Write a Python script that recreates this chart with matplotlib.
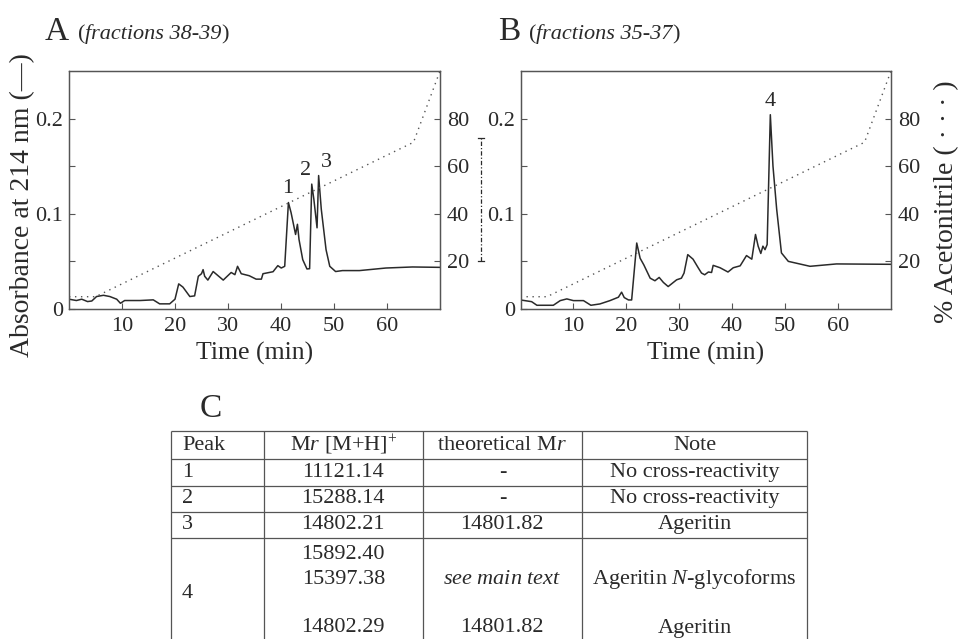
import numpy as np
import matplotlib.pyplot as plt

plt.rcParams['font.family'] = 'Liberation Serif'
plt.rcParams['mathtext.fontset'] = 'custom'
plt.rcParams['mathtext.rm'] = 'Liberation Serif'
plt.rcParams['mathtext.it'] = 'Liberation Serif:italic'

# acetonitrile gradient (%)
grad_time = [0, 5, 65, 70]
grad_pct = [5, 5, 70, 100]

# chromatogram A (fractions 38-39)
a_time = [0, 1.4, 2.4, 3.5, 4.3, 5.2, 6.5, 7.7, 9.0, 9.7, 10.5, 13.4, 15.9, 17.1,
          19.0, 20.0, 20.7, 21.5, 22.8, 23.7, 24.4, 25.0, 25.3, 25.6, 26.2, 27.2,
          29.1, 30.6, 31.3, 31.8, 32.5, 34.0, 35.3, 36.3, 36.6, 38.5, 39.4, 40.05,
          40.7, 41.4, 41.9, 42.75, 43.1, 43.4, 44.1, 44.9, 45.4, 45.8, 46.2, 46.8,
          47.1, 47.6, 48.5, 49.2, 50.3, 51.6, 54.8, 59.8, 64.8, 70]
a_abs = [0.0099, 0.0085, 0.0099, 0.0074, 0.008, 0.0127, 0.014, 0.0127, 0.0099,
         0.0056, 0.0085, 0.0085, 0.0092, 0.005, 0.005, 0.0099, 0.026, 0.0226,
         0.0127, 0.0134, 0.034, 0.0367, 0.041, 0.034, 0.030, 0.039, 0.030, 0.038,
         0.0357, 0.0445, 0.0367, 0.0346, 0.031, 0.031, 0.0367, 0.0388, 0.0452,
         0.0427, 0.0445, 0.1116, 0.101, 0.078, 0.0887, 0.0727, 0.0515, 0.0417,
         0.042, 0.131, 0.115, 0.085, 0.140, 0.1046, 0.062, 0.0445, 0.039, 0.040,
         0.040, 0.0427, 0.0438, 0.0434]
a_peak_names = ['1', '2', '3']
a_peak_time = [41.3, 44.6, 48.5]
a_peak_abs = [0.126, 0.145, 0.154]

# chromatogram B (fractions 35-37)
b_time = [0, 2.1, 3.1, 6.2, 7.5, 8.75, 10.0, 11.9, 13.3, 15.0, 16.9, 18.5, 19.1,
          19.6, 20.4, 21.0, 21.96, 22.6, 23.3, 24.5, 25.4, 26.2, 27.0, 27.9, 29.5,
          30.4, 30.9, 31.6, 32.6, 33.6, 34.2, 34.8, 35.5, 36.1, 36.4, 37.7, 39.2,
          40.2, 41.5, 42.7, 43.7, 44.4, 44.9, 45.4, 45.8, 46.2, 46.6, 47.2, 47.7,
          48.4, 49.3, 50.6, 54.7, 59.7, 70]
b_abs = [0.0091, 0.0073, 0.0035, 0.0035, 0.0084, 0.0102, 0.0084, 0.0084, 0.0035,
         0.0049, 0.0084, 0.012, 0.0173, 0.0116, 0.0091, 0.0091, 0.069, 0.053,
         0.046, 0.032, 0.0293, 0.0328, 0.0275, 0.0232, 0.0303, 0.032, 0.0374,
         0.0568, 0.052, 0.0427, 0.0374, 0.0356, 0.0385, 0.038, 0.0455, 0.043,
         0.0385, 0.043, 0.045, 0.0558, 0.052, 0.078, 0.0657, 0.058, 0.0657, 0.062,
         0.0674, 0.204, 0.150, 0.1046, 0.0586, 0.0497, 0.0445, 0.047, 0.0466]
b_peak_names = ['4']
b_peak_time = [47.2]
b_peak_abs = [0.218]

x_ticks = [10, 20, 30, 40, 50, 60]
abs_ticks = [0, 0.05, 0.1, 0.15, 0.2]
abs_tick_labels = ['0', '', '0.1', '', '0.2']
pct_ticks = [20, 40, 60, 80]
bracket_pct = [20, 72]

# table C
table_header = ['Peak', r'M$\mathit{r}$ [M+H]$^{+}$', r'theoretical M$\mathit{r}$', 'Note']
peaks = ['1', '2', '3', '4']
mr_values = [['11121.14'], ['15288.14'], ['14802.21'],
             ['15892.40', '15397.38', '', '14802.29']]
theoretical = [['-'], ['-'], ['14801.82'],
               ['', r'$\mathit{see\ main\ text}$', '', '14801.82']]
notes = [['No cross-reactivity'], ['No cross-reactivity'], ['Ageritin'],
         ['', r'Ageritin $\mathit{N}$-glycoforms', '', 'Ageritin']]

W, H = 963, 639
fig = plt.figure(figsize=(W / 100, H / 100), dpi=100)
renderer = fig.canvas.get_renderer()

ink = '#2a2a2a'
spine = '#555555'


def style_axes(ax, ax2):
    for a in (ax, ax2):
        for s in a.spines.values():
            s.set_color(spine)
            s.set_linewidth(0.9)
    ax.set_xlim(0, 70)
    ax.set_ylim(0, 0.25)
    ax2.set_ylim(0, 100)
    ax.set_xticks(x_ticks)
    ax.set_yticks(abs_ticks)
    ax.set_yticklabels(abs_tick_labels)
    ax2.set_yticks(pct_ticks)
    ax.tick_params(axis='both', direction='in', length=4, width=0.8,
                   color=spine, labelsize=16, labelcolor=ink)
    ax.tick_params(axis='x', pad=6)
    ax.tick_params(axis='y', pad=4)
    ax2.tick_params(axis='y', direction='in', length=4, width=0.8,
                    color=spine, labelsize=16, labelcolor=ink, pad=5)
    ax.set_xlabel('Time (min)', fontsize=18.5, color=ink, labelpad=4)


def panel(rect, t, a, names, nt, na):
    ax = fig.add_axes(rect)
    ax2 = ax.twinx()
    ax.plot(t, a, color=ink, lw=1.1)
    ax2.plot(grad_time, grad_pct, color='#555555', lw=1.0,
             linestyle=(0, (1, 3.3)))
    for n, x, y in zip(names, nt, na):
        ax.text(x, y, n, ha='center', va='center', fontsize=16, color=ink)
    style_axes(ax, ax2)
    return ax, ax2


def title_parts(x, y, parts):
    # parts: (string, fontsize, style); laid out left to right on one baseline
    for s, size, style in parts:
        t = fig.text(x / W, 1 - y / H, s, fontsize=size, fontstyle=style,
                     color=ink, va='baseline')
        x += t.get_window_extent(renderer).width


axA, axA2 = panel([69 / W, 1 - 308.6 / H, 371 / W, 237.6 / H],
                  a_time, a_abs, a_peak_names, a_peak_time, a_peak_abs)
axB, axB2 = panel([520.5 / W, 1 - 308.6 / H, 370.5 / W, 237.6 / H],
                  b_time, b_abs, b_peak_names, b_peak_time, b_peak_abs)

# dash-dot bracket beside panel A's right axis
tr = axA2.get_yaxis_transform()
bx = 1.1105
axA2.plot([bx, bx], bracket_pct, transform=tr, clip_on=False, color=ink,
          lw=0.9, linestyle=(0, (3.5, 1.6, 1, 1.6)))
for v in bracket_pct:
    axA2.plot([bx - 0.009, bx + 0.009], [v, v], transform=tr, clip_on=False,
              color=ink, lw=0.9)

# axis titles
fig.text(23 / W, 1 - 205 / H, 'Absorbance at 214 nm (\u2014)', rotation=90,
         ha='center', va='center', fontsize=20, color=ink)
fig.text(947 / W, 1 - 202 / H, '% Acetonitrile ( \u00b7 \u00b7 \u00b7 )',
         rotation=90, ha='center', va='center', fontsize=20, color=ink)

# panel letters and subtitles
fig.text(45 / W, 1 - 39.5 / H, 'A', fontsize=24, color=ink, va='baseline')
title_parts(77.5, 39.5, [('(', 16, 'normal'), ('fractions 38-39', 16, 'italic'),
                         (')', 16, 'normal')])
fig.text(498 / W, 1 - 39.5 / H, 'B', fontsize=24, color=ink, va='baseline')
title_parts(528.5, 39.5, [('(', 16, 'normal'), ('fractions 35-37', 16, 'italic'),
                          (')', 16, 'normal')])
fig.text(200 / W, 1 - 417 / H, 'C', fontsize=24, color=ink, va='baseline')

# table drawn in pixel space
tax = fig.add_axes([0, 0, 1, 1], zorder=-1)
tax.set_xlim(0, W)
tax.set_ylim(H, 0)
tax.axis('off')
col_edges = [171, 263.5, 423, 581.7, 807.3]
row_edges = [431, 459, 486, 511.5, 538]
tax.hlines(row_edges, col_edges[0], col_edges[-1], color=spine, lw=0.9)
tax.vlines(col_edges, row_edges[0], H + 5, color=spine, lw=0.9)

fs = 16
col_mid = [(col_edges[i] + col_edges[i + 1]) / 2 for i in range(4)]
hy = (row_edges[0] + row_edges[1]) / 2
tax.text(182, hy, table_header[0], ha='left', va='center', fontsize=fs, color=ink)
for j in range(1, 4):
    tax.text(col_mid[j], hy, table_header[j], ha='center', va='center',
             fontsize=fs, color=ink)

multi_lines = [554.5, 579, 603.5, 628]
for i, p in enumerate(peaks):
    if i < 3:
        ys = [(row_edges[i + 1] + row_edges[i + 2]) / 2]
        py = ys[0]
    else:
        ys = multi_lines
        py = 593
    tax.text(182, py, p, ha='left', va='center', fontsize=fs, color=ink)
    for col, vals in ((1, mr_values[i]), (2, theoretical[i]), (3, notes[i])):
        for y, s in zip(ys, vals):
            if s:
                tax.text(col_mid[col], y, s, ha='center', va='center',
                         fontsize=fs, color=ink)

fig.savefig('out.png', dpi=100)
